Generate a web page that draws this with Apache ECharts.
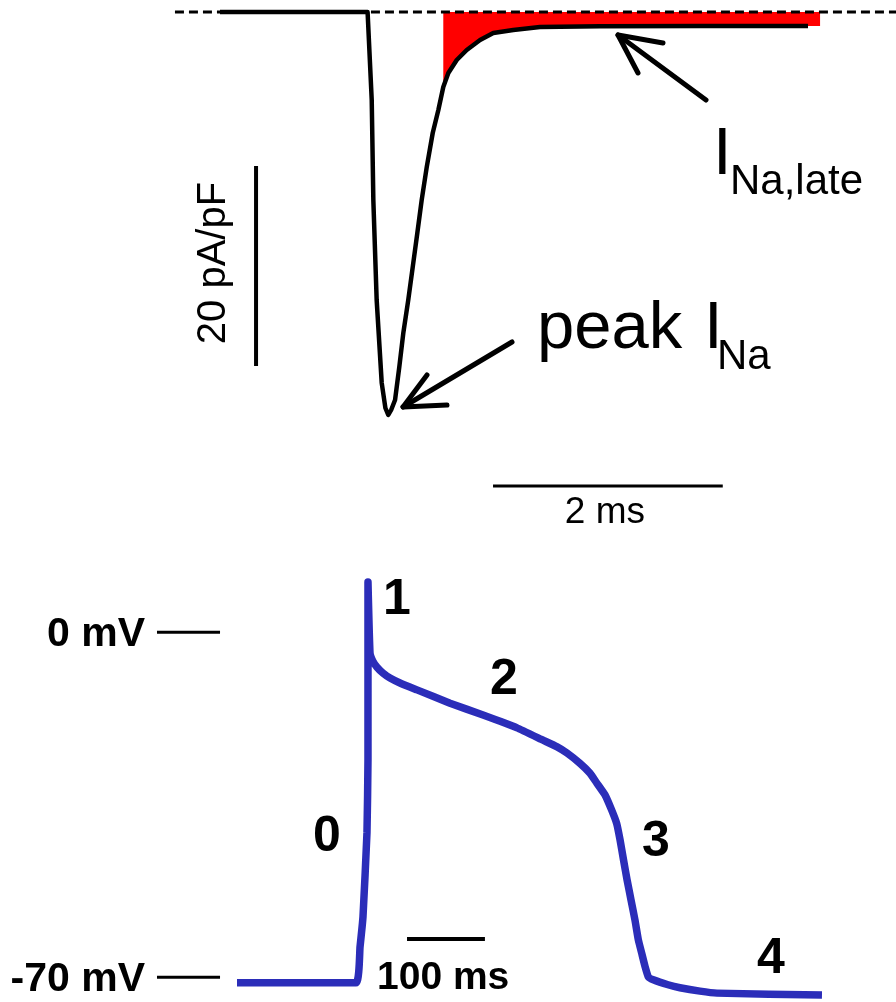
<!DOCTYPE html>
<html>
<head>
<meta charset="utf-8">
<script src="https://cdn.jsdelivr.net/npm/echarts@6/dist/echarts.min.js"></script>
<style>
  html, body { margin: 0; padding: 0; background: #ffffff; }
  #chart { width: 896px; height: 1002px; }
</style>
</head>
<body>
<div id="chart"></div>
<script>
// ---- Sodium current trace: time (ms) and current density (pA/pF) ----
const naTime = [-1.285, 0.0, 0.036, 0.050, 0.079, 0.123, 0.155, 0.180, 0.205, 0.239, 0.276, 0.311,
  0.354, 0.393, 0.433, 0.471, 0.515, 0.567, 0.616, 0.659, 0.703, 0.776, 0.863, 0.979, 1.094,
  1.268, 1.501, 2.023, 2.894, 3.834];
const naCurrent = [0, 0, -8.8, -18.8, -28.8, -37.1, -39.6, -40.3, -39.8, -38.8, -35.5, -32.1,
  -28.8, -25.5, -22.1, -18.8, -15.5, -12.1, -9.8, -7.5, -6.1, -4.8, -3.8, -2.8, -2.1,
  -1.8, -1.5, -1.43, -1.4, -1.4];
// window of the shaded late current (ms)
const lateWindow = [0.659, 3.939];
// zero-current reference span (ms)
const zeroSpan = [-1.677, 4.6];

// ---- Ventricular action potential: time (ms) and membrane potential (mV) ----
const apTime = [-155.8, -3.1, 2.1, 5.9, 11.0, 12.3, 12.3, 14.9, 18.7, 23.9, 31.6, 40.6, 53.4,
  75.2, 117.6, 160.0, 203.6, 237.0, 254.5, 267.7, 284.4, 297.3, 306.0, 316.5, 325.1, 331.5,
  335.8, 340.3, 344.8, 349.9, 355.0, 359.3, 363.6, 367.9, 372.1, 378.5, 397.4, 412.7, 438.4,
  460.2, 595.0];
const apVoltage = [-71.1, -71.1, -63.8, -57.7, -40.7, -25.9, 10.2, -4.2, -5.9, -7.1, -8.3, -9.3, -10.3,
  -11.7, -14.4, -16.8, -19.4, -21.9, -23.2, -24.5, -26.6, -28.6, -30.6, -33.0, -36.1, -38.8,
  -42.1, -46.2, -50.2, -54.3, -58.4, -62.4, -65.1, -67.8, -69.9, -70.5, -71.5, -72.1, -72.8,
  -73.2, -73.6];

// voltage reference marks
const voltageTicks = [0, -70];
const voltageTickLabels = ['0 mV', '-70 mV'];
// phase numbers of the action potential
const phaseLabels = ['0', '1', '2', '3', '4'];

// scale bars
const currentBar = 20;      // pA/pF
const currentBarLabel = '20 pA/pF';
const topTimeBar = 2;       // ms
const topTimeBarLabel = '2 ms';
const apTimeBar = 100;      // ms
const apTimeBarLabel = '100 ms';

// ---------------------------------------------------------------------------
const FONT = '"Liberation Sans", Arial, Helvetica, sans-serif';
const BLUE = '#2b2db9';

const chart = echarts.init(document.getElementById('chart'), null, { renderer: 'canvas' });

const naData = naTime.map((t, i) => [t, naCurrent[i]]);
const lateData = naData.filter(p => p[0] >= lateWindow[0] && p[0] <= lateWindow[1]);
lateData.push([lateWindow[1], lateData[lateData.length - 1][1]]);
const apData = apTime.map((t, i) => [t, apVoltage[i]]);

// anchor points of the scale bars and reference marks (data units)
const currentBarAt = [-0.971, -15.4];
const topTimeBarAt = [1.092, -47.4];
const apTimeBarAt = [62.4, -62.2];
const tickSpan = [-258.5, -177.6];

function seg(axisIndex, data, width, color, extra) {
  return Object.assign({
    type: 'line', xAxisIndex: axisIndex, yAxisIndex: axisIndex, data: data,
    symbol: 'none', silent: true, animation: false,
    lineStyle: { color: color, width: width, cap: 'butt' }
  }, extra || {});
}

const hiddenAxis = { show: false, splitLine: { show: false } };

const series = [
  // shaded late sodium current
  seg(0, lateData, 0, '#ff0000', {
    z: 1,
    lineStyle: { width: 0, color: '#ff0000' },
    areaStyle: { color: '#ff0000', opacity: 1, origin: 'auto' }
  }),
  // zero current reference
  seg(0, [[zeroSpan[0], 0], [zeroSpan[1], 0]], 3, '#000', {
    z: 2, lineStyle: { color: '#000', width: 3, type: [9, 5] }
  }),
  // sodium current trace
  seg(0, naData, 4.5, '#000', { z: 3, lineStyle: { color: '#000', width: 4.5, join: 'round' } }),
  // 20 pA/pF bar
  seg(0, [currentBarAt, [currentBarAt[0], currentBarAt[1] - currentBar]], 4, '#000', { z: 3 }),
  // 2 ms bar
  seg(0, [topTimeBarAt, [topTimeBarAt[0] + topTimeBar, topTimeBarAt[1]]], 3, '#000', { z: 3 }),
  // action potential
  seg(1, apData, 7.5, BLUE, { z: 3, smooth: 0.12, lineStyle: { color: BLUE, width: 7.5, join: 'round' } }),
  // 100 ms bar
  seg(1, [apTimeBarAt, [apTimeBarAt[0] + apTimeBar, apTimeBarAt[1]]], 4, '#000', { z: 3 })
];
voltageTicks.forEach(v => {
  series.push(seg(1, [[tickSpan[0], v], [tickSpan[1], v]], 3, '#000', { z: 3 }));
});

chart.setOption({
  backgroundColor: '#ffffff',
  animation: false,
  grid: [
    { left: 0, top: 0, width: 896, height: 540 },
    { left: 0, top: 540, width: 896, height: 462 }
  ],
  xAxis: [
    Object.assign({ type: 'value', gridIndex: 0, min: -3.2, max: 4.6 }, hiddenAxis),
    Object.assign({ type: 'value', gridIndex: 1, min: -460, max: 690 }, hiddenAxis)
  ],
  yAxis: [
    Object.assign({ type: 'value', gridIndex: 0, min: -52.8, max: 1.2 }, hiddenAxis),
    Object.assign({ type: 'value', gridIndex: 1, min: -75, max: 18.7 }, hiddenAxis)
  ],
  series: series
});

// ---- annotations ----
const px0 = p => chart.convertToPixel({ gridIndex: 0 }, p);
const px1 = p => chart.convertToPixel({ gridIndex: 1 }, p);

function txt(text, x, y, size, opts) {
  opts = opts || {};
  return {
    type: 'text', silent: true, z: 10,
    x: x, y: y, rotation: opts.rotation || 0,
    style: {
      text: text, fill: '#000',
      fontSize: size, fontFamily: FONT, fontWeight: opts.bold ? 'bold' : 'normal',
      align: opts.align || 'left', verticalAlign: 'middle'
    }
  };
}
function poly(points, width) {
  return {
    type: 'polyline', silent: true, z: 10,
    shape: { points: points },
    style: { stroke: '#000', lineWidth: width, fill: null, lineCap: 'round', lineJoin: 'round' }
  };
}

const graphics = [];

// current scale bar label
const cb = px0(currentBarAt), cb2 = px0([currentBarAt[0], currentBarAt[1] - currentBar]);
graphics.push(txt(currentBarLabel, cb[0] - 42, (cb[1] + cb2[1]) / 2 - 3, 40,
  { align: 'center', rotation: Math.PI / 2 }));
// 2 ms label
const tb = px0(topTimeBarAt), tb2 = px0([topTimeBarAt[0] + topTimeBar, topTimeBarAt[1]]);
graphics.push(txt(topTimeBarLabel, (tb[0] + tb2[0]) / 2 - 3, tb[1] + 26.5, 37, { align: 'center' }));

// peak INa annotation
graphics.push(txt('peak', 537, 330, 67));
graphics.push(txt('I', 704, 330, 67));
graphics.push(txt('Na', 717, 357, 42));
graphics.push(poly([[512, 342], [403, 407]], 5));
graphics.push(poly([[447, 405], [403, 407], [427, 375]], 5));

// late INa annotation
graphics.push(txt('I', 713, 156, 67));
graphics.push(txt('Na,late', 730, 182, 42));
graphics.push(poly([[706, 100], [618, 35]], 5));
graphics.push(poly([[663, 43], [618, 35], [638, 73]], 5));

// voltage reference labels
voltageTicks.forEach((v, i) => {
  const p = px1([tickSpan[0], v]);
  graphics.push(txt(voltageTickLabels[i], p[0] - 12, p[1] + 2, 41, { align: 'right', bold: true }));
});
// 100 ms label
const ab = px1(apTimeBarAt);
graphics.push(txt(apTimeBarLabel, ab[0] - 30, ab[1] + 39, 39, { bold: true }));

// phase numbers
const phasePos = [[327, 837], [397, 600], [504, 680], [656, 842], [771, 959]];
phaseLabels.forEach((s, i) => {
  graphics.push(txt(s, phasePos[i][0], phasePos[i][1], 50, { align: 'center', bold: true }));
});

chart.setOption({ graphic: graphics });
</script>
</body>
</html>
